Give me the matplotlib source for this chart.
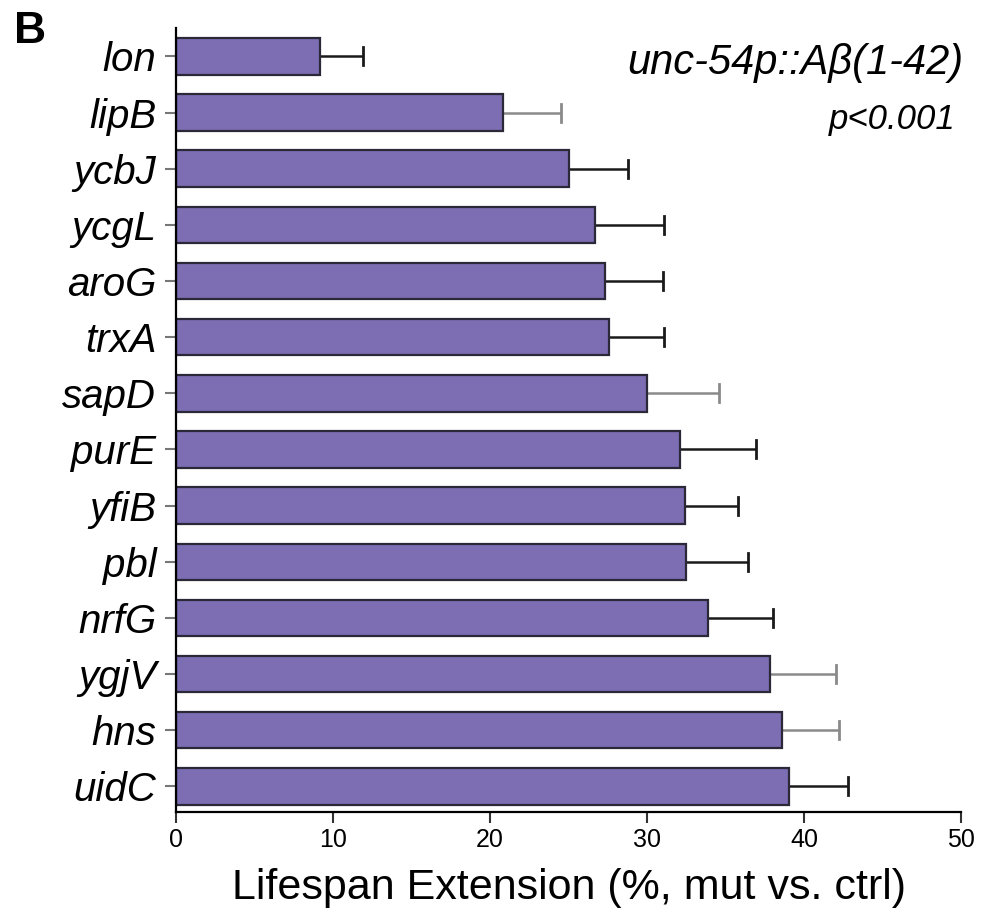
import matplotlib
matplotlib.use("Agg")
import matplotlib.pyplot as plt

genes = ['lon', 'lipB', 'ycbJ', 'ycgL', 'aroG', 'trxA', 'sapD',
         'purE', 'yfiB', 'pbl', 'nrfG', 'ygjV', 'hns', 'uidC']
extension = [9.2, 20.8, 25.0, 26.7, 27.3, 27.6, 30.0,
             32.1, 32.4, 32.5, 33.9, 37.8, 38.6, 39.0]
err = [2.7, 3.7, 3.8, 4.4, 3.7, 3.5, 4.6,
       4.8, 3.4, 3.9, 4.1, 4.2, 3.6, 3.8]
x_ticks = [0, 10, 20, 30, 40, 50]

# error bars that look lighter in the original
light_err = {'lipB', 'sapD', 'ygjV', 'hns'}

plt.rcParams['font.family'] = ['Liberation Sans', 'DejaVu Sans']

fig = plt.figure(figsize=(9.82, 9.14), dpi=100)
ax = fig.add_axes([0.179, 0.112, 0.800, 0.857])

pos = list(range(len(genes)))
ax.barh(pos, extension, height=0.65, color='#7d6db3',
        edgecolor='#2b2838', linewidth=1.6, zorder=2)
for p, g, v, e in zip(pos, genes, extension, err):
    c = '#8a8a8a' if g in light_err else '#1a1a1a'
    ax.errorbar(v + e / 2, p, xerr=e / 2, fmt='none', ecolor=c,
                elinewidth=1.8, capsize=0, zorder=1)
    ax.plot([v + e, v + e], [p - 0.16, p + 0.16], color=c, lw=2, zorder=1)

ax.set_ylim(13.45, -0.5)
ax.set_xlim(0, 50)
ax.set_yticks(pos)
ax.set_yticklabels(genes, fontsize=29, fontstyle='italic')
ax.set_xticks(x_ticks)
ax.set_xticklabels([str(t) for t in x_ticks], fontsize=18)
ax.set_xlabel('Lifespan Extension (%, mut vs. ctrl)', fontsize=31, labelpad=11)

ax.spines['top'].set_visible(False)
ax.spines['right'].set_visible(False)
ax.spines['left'].set_linewidth(1.6)
ax.spines['bottom'].set_linewidth(1.6)
ax.tick_params(axis='y', length=8, width=1.5, color='#777777', pad=6)
ax.tick_params(axis='x', length=8, width=1.5, color='#333333', pad=4)

fig.text(0.981, 0.931, 'unc-54p::A\u03b2(1-42)', fontsize=30, fontstyle='italic',
         ha='right', va='center')
fig.text(0.973, 0.869, 'p<0.001', fontsize=25, fontstyle='italic',
         ha='right', va='center')
fig.text(0.014, 0.965, 'B', fontsize=32, fontweight='bold', ha='left', va='center')

fig.savefig('out.png', dpi=100)
